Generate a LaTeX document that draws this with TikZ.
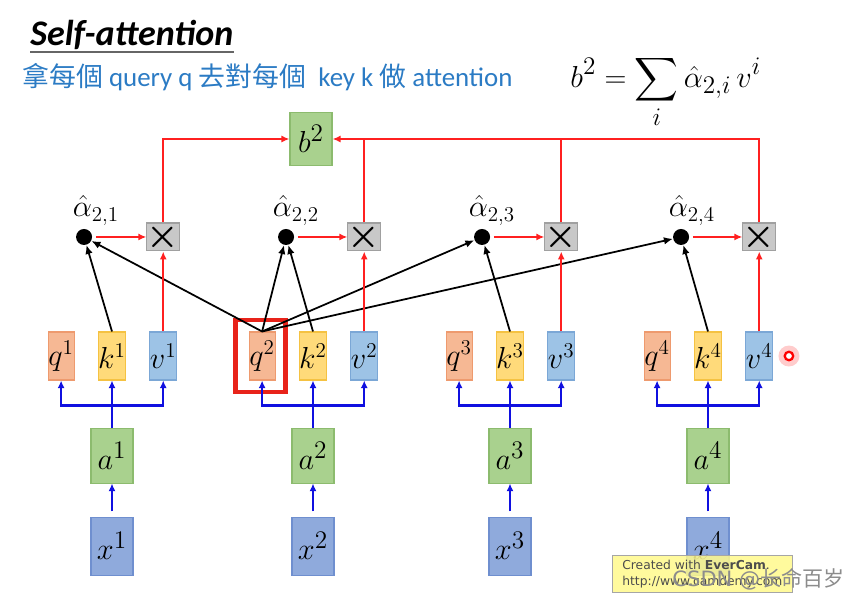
\documentclass[tikz,border=0pt]{standalone}
\usepackage{fontspec}
\usepackage{amsmath}
\usetikzlibrary{arrows.meta,positioning}
\setsansfont{DejaVu Sans}
\newfontfamily\cjkfont{Noto Sans CJK TC}
\newfontfamily\calfont{Carlito}
\definecolor{qfill}{HTML}{F6B894}
\definecolor{qline}{HTML}{EE9A6E}
\definecolor{kfill}{HTML}{FFDA7A}
\definecolor{kline}{HTML}{F5C242}
\definecolor{vfill}{HTML}{9DC3E6}
\definecolor{vline}{HTML}{7BA7D6}
\definecolor{afill}{HTML}{A9D18E}
\definecolor{aline}{HTML}{8CBB6E}
\definecolor{xfill}{HTML}{8FAADC}
\definecolor{xline}{HTML}{6F8FCF}
\definecolor{mulfill}{HTML}{C8C8C8}
\definecolor{mulline}{HTML}{A0A0A0}
\definecolor{arrowred}{HTML}{FF2020}
\definecolor{arrowblue}{HTML}{1010E0}
\definecolor{subblue}{HTML}{2B7BC4}
\definecolor{hlred}{HTML}{E8231A}
\tikzset{
  vecbox/.style={
    rectangle, inner sep=0pt, line width=0.6pt,
    minimum width=0.52cm, minimum height=0.96cm,
    font=\fontsize{16.5}{16.5}\selectfont
  },
  qnode/.style={vecbox, fill=qfill, draw=qline},
  knode/.style={vecbox, fill=kfill, draw=kline},
  vnode/.style={vecbox, fill=vfill, draw=vline},
  bignode/.style={
    rectangle, inner sep=0pt, line width=0.6pt,
    minimum width=0.84cm, minimum height=1.1cm,
    font=\fontsize{19}{19}\selectfont
  },
  anode/.style={bignode, fill=afill, draw=aline},
  xnode/.style={bignode, minimum height=1.16cm, fill=xfill, draw=xline},
  mulnode/.style={
    rectangle, inner sep=0pt, minimum size=0.52cm,
    fill=mulfill, draw=mulline, line width=0.6pt,
    font=\fontsize{22}{22}\selectfont
  },
  dotnode/.style={circle, fill=black, inner sep=0pt, minimum size=0.32cm},
  alphalabel/.style={inner sep=1pt, font=\fontsize{16.5}{16.5}\selectfont},
  redarrow/.style={-{Latex[length=1.6mm,width=1.4mm]}, draw=arrowred, line width=1pt},
  redline/.style={draw=arrowred, line width=1pt},
  bluearrow/.style={-{Latex[length=1.5mm,width=1.4mm]}, draw=arrowblue, line width=1.4pt},
  blackarrow/.style={-{Latex[length=1.8mm,width=1.5mm]}, black, line width=1pt},
}
\begin{document}
\begin{tikzpicture}
  \useasboundingbox (0,0) rectangle (17.06,-12.06);

  % heading
  \node[anchor=base west, inner sep=0pt,
        font=\calfont\bfseries\itshape\fontsize{20.5}{24}\selectfont] (title) at (0.6,-0.9) {Self-attention};
  \draw[line width=1pt, black!60] ([yshift=-4pt]title.base west) -- ([yshift=-4pt]title.base east);
  \node[anchor=base west, inner sep=0pt, text=subblue,
        font=\calfont\fontsize{15.3}{18}\selectfont] (subtitle) at (0.44,-1.72)
        {{\cjkfont 拿每個} query q {\cjkfont 去對每個}\ \ key k {\cjkfont 做} attention};
  \node[anchor=base west, inner sep=0pt, font=\fontsize{19}{22}\selectfont] (formula) at (11.4,-1.74)
        {$\displaystyle b^2 = \sum_i \hat{\alpha}_{2,i}\, v^i$};

  % q k v rows
  \node[knode] (k1) at (2.24,-7.12) {$k^1$};
  \node[knode] (k2) at (6.26,-7.12) {$k^2$};
  \node[knode] (k3) at (10.2,-7.12) {$k^3$};
  \node[knode] (k4) at (14.16,-7.12) {$k^4$};
  \node[qnode, left=0.46cm of k1] (q1) {$q^1$};
  \node[qnode, left=0.46cm of k2] (q2) {$q^2$};
  \node[qnode, left=0.46cm of k3] (q3) {$q^3$};
  \node[qnode, left=0.46cm of k4] (q4) {$q^4$};
  \node[vnode, right=0.46cm of k1] (v1) {$v^1$};
  \node[vnode, right=0.46cm of k2] (v2) {$v^2$};
  \node[vnode, right=0.46cm of k3] (v3) {$v^3$};
  \node[vnode, right=0.46cm of k4] (v4) {$v^4$};
  \node[draw=hlred, line width=2.8pt, minimum width=1.0cm, minimum height=1.44cm,
        inner sep=0pt, xshift=-0.04cm] (hl) at (q2) {};

  % inputs
  \node[anode, below=0.94cm of k1] (a1) {$a^1$};
  \node[anode, below=0.94cm of k2] (a2) {$a^2$};
  \node[anode, below=0.94cm of k3] (a3) {$a^3$};
  \node[anode, below=0.94cm of k4] (a4) {$a^4$};
  \node[xnode, below=0.66cm of a1] (x1) {$x^1$};
  \node[xnode, below=0.66cm of a2] (x2) {$x^2$};
  \node[xnode, below=0.66cm of a3] (x3) {$x^3$};
  \node[xnode, below=0.66cm of a4] (x4) {$x^4$};

  % attention scores and products
  \node[mulnode, above=1.6cm of v1] (m1) {$\boldsymbol{\times}$};
  \node[mulnode, above=1.6cm of v2] (m2) {$\boldsymbol{\times}$};
  \node[mulnode, above=1.6cm of v3] (m3) {$\boldsymbol{\times}$};
  \node[mulnode, above=1.6cm of v4] (m4) {$\boldsymbol{\times}$};
  \node[dotnode, left=1.08cm of m1] (d1) {};
  \node[dotnode, left=1.06cm of m2] (d2) {};
  \node[dotnode, left=1.08cm of m3] (d3) {};
  \node[dotnode, left=1.06cm of m4] (d4) {};
  \node[alphalabel, above=0.02cm of d1, xshift=0.24cm] (l1) {$\hat{\alpha}_{2,1}$};
  \node[alphalabel, above=0.02cm of d2, xshift=0.2cm] (l2) {$\hat{\alpha}_{2,2}$};
  \node[alphalabel, above=0.02cm of d3, xshift=0.2cm] (l3) {$\hat{\alpha}_{2,3}$};
  \node[alphalabel, above=0.02cm of d4, xshift=0.22cm] (l4) {$\hat{\alpha}_{2,4}$};
  \node[anode, minimum height=1.06cm] (b2) at (6.22,-2.78) {$b^2$};

  % x -> a -> q k v
  \draw[bluearrow, shorten <=3pt] (x1) -- (a1);
  \draw[bluearrow, shorten <=3pt] (x2) -- (a2);
  \draw[bluearrow, shorten <=3pt] (x3) -- (a3);
  \draw[bluearrow, shorten <=3pt] (x4) -- (a4);
  \coordinate (j1) at ([yshift=0.44cm]a1.north);
  \coordinate (j2) at ([yshift=0.44cm]a2.north);
  \coordinate (j3) at ([yshift=0.44cm]a3.north);
  \coordinate (j4) at ([yshift=0.44cm]a4.north);
  \draw[bluearrow] (a1) -- (k1);
  \draw[bluearrow] (a2) -- (k2);
  \draw[bluearrow] (a3) -- (k3);
  \draw[bluearrow] (a4) -- (k4);
  \draw[bluearrow] (j1) -| (q1);
  \draw[bluearrow] (j1) -| (v1);
  \draw[bluearrow] (j2) -| (q2);
  \draw[bluearrow] (j2) -| (v2);
  \draw[bluearrow] (j3) -| (q3);
  \draw[bluearrow] (j3) -| (v3);
  \draw[bluearrow] (j4) -| (q4);
  \draw[bluearrow] (j4) -| (v4);

  % q2 against every key
  \draw[blackarrow] (k1.north) -- (d1);
  \draw[blackarrow] (q2.north) -- (d1);
  \draw[blackarrow] (q2.north) -- (d2);
  \draw[blackarrow] (k2.north) -- (d2);
  \draw[blackarrow] (q2.north) -- (d3);
  \draw[blackarrow] (k3.north) -- (d3);
  \draw[blackarrow] (q2.north) -- (d4);
  \draw[blackarrow] (k4.north) -- (d4);

  % weighted values
  \draw[redarrow, shorten <=2pt] (d1) -- (m1);
  \draw[redarrow, shorten <=2pt] (d2) -- (m2);
  \draw[redarrow, shorten <=2pt] (d3) -- (m3);
  \draw[redarrow, shorten <=2pt] (d4) -- (m4);
  \draw[redarrow] (v1) -- (m1);
  \draw[redarrow] (v2) -- (m2);
  \draw[redarrow] (v3) -- (m3);
  \draw[redarrow] (v4) -- (m4);
  \draw[redarrow] (m1.north) |- (b2.west);
  \draw[redarrow] (m4.north) |- (b2.east);
  \draw[redline] (m2.north) -- (m2.north |- b2.east);
  \draw[redline] (m3.north) -- (m3.north |- b2.east);

  % pointer
  \node[circle, fill=red!20, inner sep=0pt, minimum size=0.42cm, right=0.1cm of v4] (glow) {};
  \node[circle, draw=red, fill=white, line width=1.3pt, inner sep=0pt, minimum size=0.17cm] (cursor) at (glow) {};

  % recorder note
  \node[anchor=north west, draw=black!35, fill=yellow!45, fill opacity=0.85, text opacity=1,
        minimum width=3.6cm, minimum height=0.74cm, align=left, inner sep=2pt,
        text=black!70, font=\sffamily\fontsize{7}{9}\selectfont] (evercam) at (12.24,-11.1)
        {Created with \textbf{EverCam}.\\http://www.camdemy.com};
  \node[anchor=base east, inner sep=0pt, text=black!45,
        font=\sffamily\fontsize{12}{14}\selectfont] (csdn) at (16.9,-11.72) {CSDN @{\cjkfont 长命百岁}};
\end{tikzpicture}
\end{document}
